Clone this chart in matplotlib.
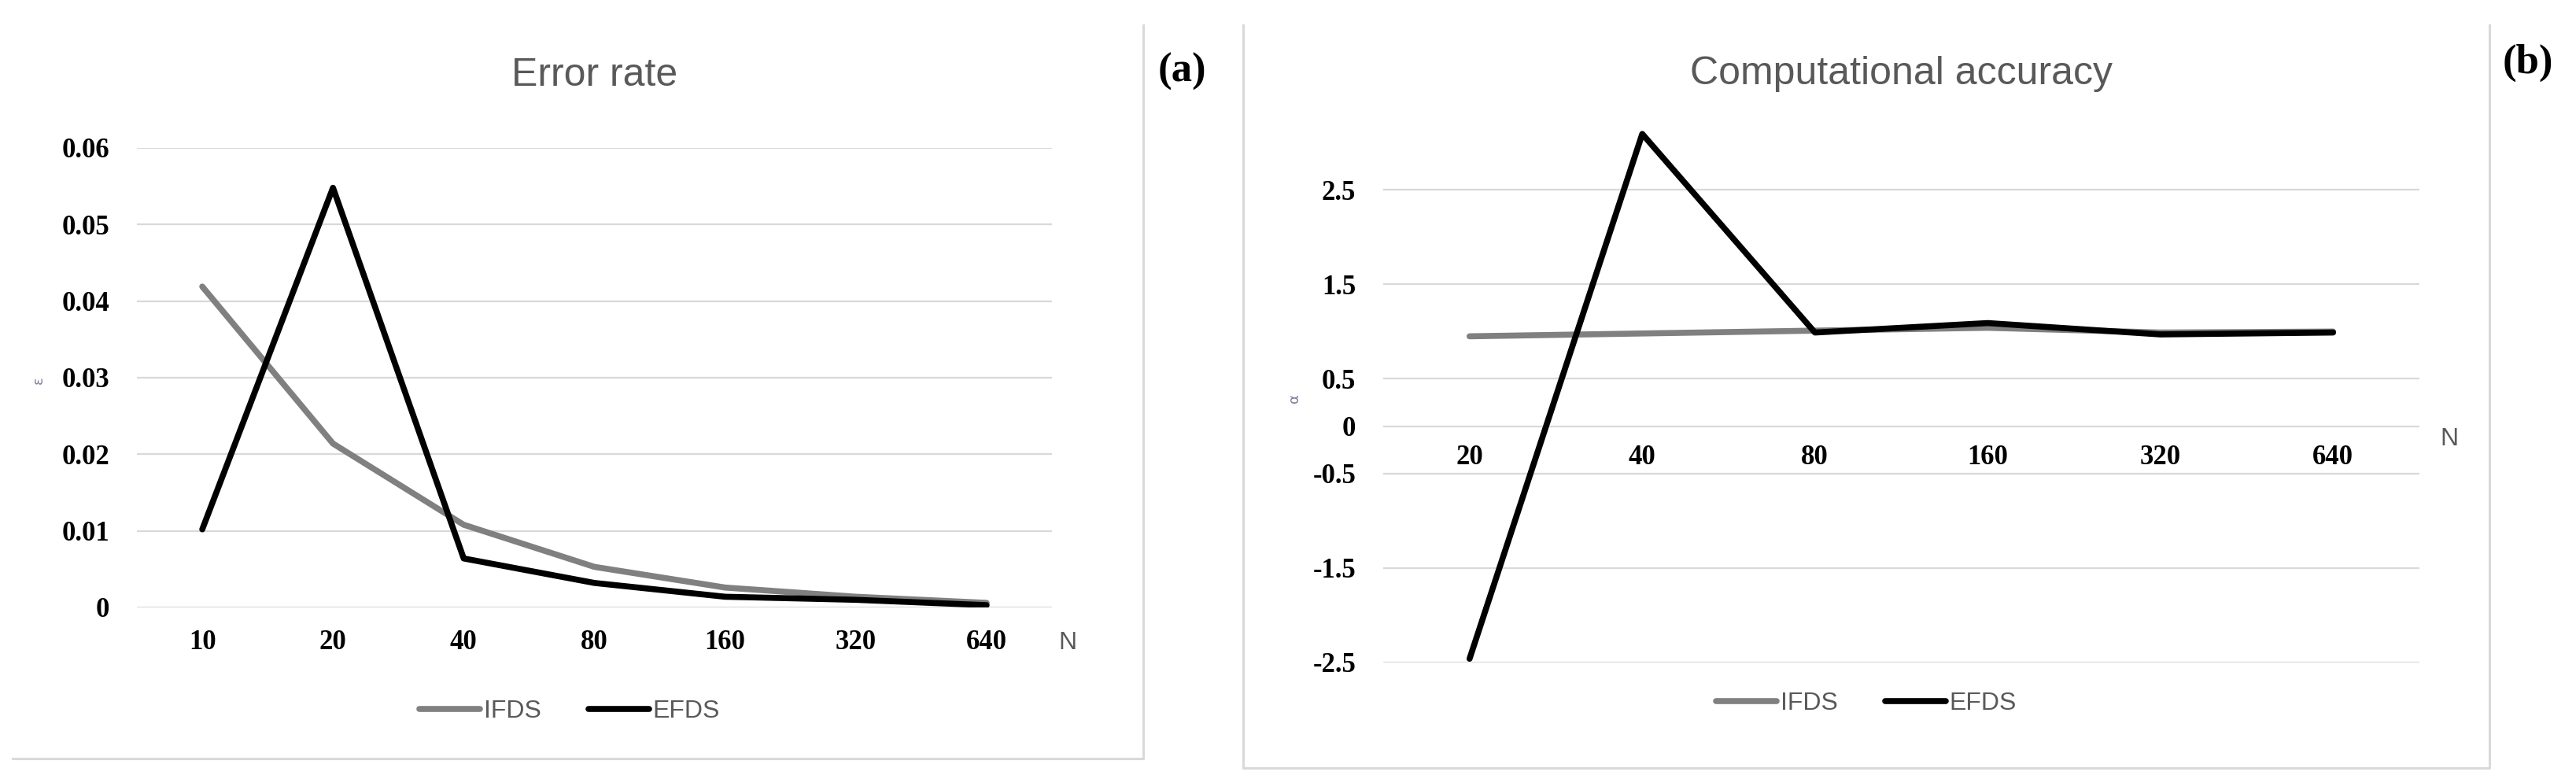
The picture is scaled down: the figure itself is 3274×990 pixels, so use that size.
import matplotlib
matplotlib.use("Agg")
import matplotlib.pyplot as plt
from matplotlib.lines import Line2D
from matplotlib.transforms import blended_transform_factory

# data
n_err = ["10", "20", "40", "80", "160", "320", "640"]
ifds_err = [0.0419, 0.0214, 0.0108, 0.0053, 0.0026, 0.0014, 0.0006]
efds_err = [0.0102, 0.0548, 0.0064, 0.0032, 0.0014, 0.0010, 0.0003]
err_ticks = [0, 0.01, 0.02, 0.03, 0.04, 0.05, 0.06]
err_labels = ["0", "0.01", "0.02", "0.03", "0.04", "0.05", "0.06"]

n_acc = ["20", "40", "80", "160", "320", "640"]
ifds_acc = [0.95, 0.98, 1.01, 1.04, 0.99, 1.00]
efds_acc = [-2.46, 3.09, 0.99, 1.09, 0.97, 0.99]
acc_ticks = [-2.5, -1.5, -0.5, 0, 0.5, 1.5, 2.5]
acc_labels = ["-2.5", "-1.5", "-0.5", "0", "0.5", "1.5", "2.5"]

W, H = 3274, 990
SANS = ["Liberation Sans", "DejaVu Sans"]
SERIF = ["Liberation Serif", "DejaVu Serif"]
GRID = "#d9d9d9"
TXT = "#595959"

fig = plt.figure(figsize=(W / 100, H / 100), dpi=100)


def px(x0, y0, x1, y1):
    """pixel box (left, top, right, bottom) -> axes rect in figure fraction"""
    return [x0 / W, 1 - y1 / H, (x1 - x0) / W, (y1 - y0) / H]


def style_axis(ax, labels, ticks, tick_labels, xpad):
    for s in ax.spines.values():
        s.set_visible(False)
    ax.set_xticks(range(len(labels)))
    ax.set_xticklabels(labels)
    ax.set_yticks(ticks)
    ax.set_yticklabels(tick_labels)
    ax.tick_params(axis="both", length=0, labelsize=25)
    ax.tick_params(axis="x", pad=xpad)
    ax.tick_params(axis="y", pad=25)
    for lab in ax.get_xticklabels() + ax.get_yticklabels():
        lab.set_family(SERIF)
        lab.set_fontweight("bold")
    ax.grid(axis="y", color=GRID, lw=1.6)
    ax.set_axisbelow(True)


def draw_lines(ax, ifds, efds):
    x = range(len(ifds))
    kw = dict(lw=5.5, solid_capstyle="round", solid_joinstyle="round")
    ax.plot(x, ifds, color="#808080", label="IFDS", **kw)
    ax.plot(x, efds, color="#000000", label="EFDS", **kw)


def legend(ax, cx, cy):
    leg = ax.legend(loc="center", bbox_to_anchor=(cx / W, 1 - cy / H),
                    bbox_transform=fig.transFigure, ncol=2, frameon=False,
                    handlelength=2.4, handletextpad=0.15, columnspacing=1.9,
                    prop={"family": SANS, "size": 23})
    for t in leg.get_texts():
        t.set_color(TXT)


# (a) error rate
ax1 = fig.add_axes(px(174, 188, 1337, 772))
draw_lines(ax1, ifds_err, efds_err)
ax1.set_xlim(-0.5, len(n_err) - 0.5)
ax1.set_ylim(0, 0.06)
style_axis(ax1, n_err, err_ticks, err_labels, xpad=20)
ax1.set_title("Error rate", family=SANS, fontsize=36, color=TXT, pad=0,
              y=1 + (188 - 96) / 584, va="center")
ax1.text(1.017, -0.077, "N", transform=ax1.transAxes, family=SANS,
         fontsize=23, color=TXT, ha="center", va="center")
legend(ax1, 724, 904)

# (b) computational accuracy
ax2 = fig.add_axes(px(1758, 157, 3075, 842))
ax2.spines["bottom"].set_position(("data", 0))
draw_lines(ax2, ifds_acc, efds_acc)
ax2.set_xlim(-0.5, len(n_acc) - 0.5)
ax2.set_ylim(-2.5, 3.2)
style_axis(ax2, n_acc, acc_ticks, acc_labels, xpad=17)
ax2.set_title("Computational accuracy", family=SANS, fontsize=36, color=TXT,
              pad=0, y=1 + (157 - 94) / 685, va="center")
tr = blended_transform_factory(ax2.transAxes, ax2.transData)
ax2.text(1.029, -0.14, "N", transform=tr, family=SANS, fontsize=23,
         color=TXT, ha="center", va="center")
legend(ax2, 2372, 894)

# axis titles (tiny, rotated, as in the source)
fig.text(49 / W, 1 - 483 / H, "ε", fontsize=13, color="#7f7f9f", rotation=90,
         ha="center", va="center")
fig.text(1645 / W, 1 - 506 / H, "α", fontsize=13, color="#7f7f9f", rotation=90,
         ha="center", va="center")

# panel letters
fig.text(1502 / W, 1 - 91 / H, "(a)", family=SERIF, fontweight="bold",
         fontsize=38, ha="center", va="center")
fig.text(3213 / W, 1 - 80 / H, "(b)", family=SERIF, fontweight="bold",
         fontsize=38, ha="center", va="center")


# chart frame borders
def border(xs, ys):
    fig.add_artist(Line2D([x / W for x in xs], [1 - y / H for y in ys],
                          color=GRID, lw=2.2, transform=fig.transFigure))


border([16, 1453, 1453], [964, 964, 32])
border([1580, 1580, 3164, 3164], [32, 976, 976, 32])

fig.savefig("out.png", dpi=100)
